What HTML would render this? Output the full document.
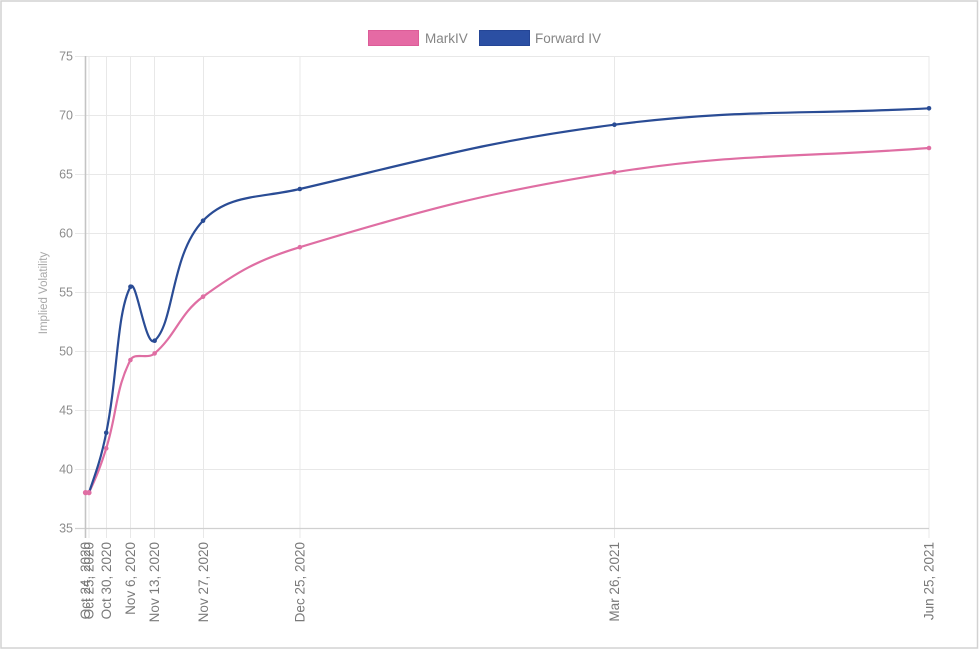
<!DOCTYPE html>
<html>
<head>
<meta charset="utf-8">
<style>
  html, body { margin:0; padding:0; background:#fff; }
  body { width:979px; height:650px; overflow:hidden; }
  svg { display:block; }
  text { font-family: "Liberation Sans", Arial, sans-serif; }
</style>
</head>
<body>
<svg width="979" height="650" viewBox="0 0 979 650" xmlns="http://www.w3.org/2000/svg">
  <rect x="0" y="0" width="979" height="650" fill="#fff"/>
  <rect x="1" y="1" width="976.5" height="647" fill="none" stroke="#d2d2d2" stroke-width="1.5"/>

  <!-- legend -->
  <rect x="368.5" y="30.5" width="50" height="15" fill="#e56aa4" stroke="#dc5c98" stroke-width="1"/>
  <text x="425" y="43" font-size="13.5" fill="#858585">MarkIV</text>
  <rect x="479.5" y="30.5" width="50" height="15" fill="#2b4fa3" stroke="#244596" stroke-width="1"/>
  <text x="535" y="43" font-size="13.5" fill="#858585">Forward IV</text>

  <!-- horizontal grid -->
  <g stroke="#e8e8e8" stroke-width="1">
    <line x1="75" y1="56.5" x2="929" y2="56.5"/>
    <line x1="75" y1="115.5" x2="929" y2="115.5"/>
    <line x1="75" y1="174.5" x2="929" y2="174.5"/>
    <line x1="75" y1="233.5" x2="929" y2="233.5"/>
    <line x1="75" y1="292.5" x2="929" y2="292.5"/>
    <line x1="75" y1="351.5" x2="929" y2="351.5"/>
    <line x1="75" y1="410.5" x2="929" y2="410.5"/>
    <line x1="75" y1="469.5" x2="929" y2="469.5"/>
  </g>
  <!-- vertical grid -->
  <g stroke="#e8e8e8" stroke-width="1">
    <line x1="89" y1="56" x2="89" y2="538"/>
    <line x1="106.5" y1="56" x2="106.5" y2="538"/>
    <line x1="130.5" y1="56" x2="130.5" y2="538"/>
    <line x1="154.5" y1="56" x2="154.5" y2="538"/>
    <line x1="203.5" y1="56" x2="203.5" y2="538"/>
    <line x1="300" y1="56" x2="300" y2="538"/>
    <line x1="614.5" y1="56" x2="614.5" y2="538"/>
    <line x1="929" y1="56" x2="929" y2="538"/>
  </g>
  <!-- axes -->
  <line x1="75" y1="528.5" x2="929" y2="528.5" stroke="#d0d0d0" stroke-width="1.3"/>
  <line x1="85.5" y1="56" x2="85.5" y2="538" stroke="#c4c4c4" stroke-width="1.6"/>

  <!-- y tick labels -->
  <g font-size="12.5" fill="#8c8c8c" text-anchor="end">
    <text x="73" y="60.5">75</text>
    <text x="73" y="119.5">70</text>
    <text x="73" y="178.5">65</text>
    <text x="73" y="237.5">60</text>
    <text x="73" y="296.5">55</text>
    <text x="73" y="355.5">50</text>
    <text x="73" y="414.5">45</text>
    <text x="73" y="473.5">40</text>
    <text x="73" y="532.5">35</text>
  </g>
  <text transform="translate(47,293) rotate(-90)" font-size="11.5" fill="#a8a8a8" text-anchor="middle">Implied Volatility</text>

  <!-- x tick labels -->
  <g font-size="13.5" fill="#7a7a7a" text-anchor="end">
    <text transform="translate(90,542) rotate(-90)">Oct 24, 2020</text>
    <text transform="translate(93.5,542) rotate(-90)">Oct 25, 2020</text>
    <text transform="translate(111,542) rotate(-90)">Oct 30, 2020</text>
    <text transform="translate(135,542) rotate(-90)">Nov 6, 2020</text>
    <text transform="translate(159,542) rotate(-90)">Nov 13, 2020</text>
    <text transform="translate(208,542) rotate(-90)">Nov 27, 2020</text>
    <text transform="translate(304.5,542) rotate(-90)">Dec 25, 2020</text>
    <text transform="translate(619,542) rotate(-90)">Mar 26, 2021</text>
    <text transform="translate(933.5,542) rotate(-90)">Jun 25, 2021</text>
  </g>

  <!-- MarkIV -->
  <path d="M85.5,492.6 C86.88,492.6 88.40,493.80 88.96,492.6 C96.69,476.10 100.57,466.46 106.24,448.35 C117.17,413.42 115.24,389.82 130.44,360 C134.60,351.84 147.33,359.77 154.64,353.4 C176.37,334.45 179.42,313.98 203.04,296.7 C237.49,271.50 258.43,259.72 299.83,247.2 C422.98,209.96 487.03,192.39 614.42,172.3 C738.69,152.71 803.17,157.72 929,148" fill="none" stroke="#df6ea3" stroke-width="2.2"/>
  <g fill="#df6ea3">
    <circle cx="85.5" cy="492.6" r="2.5"/>
    <circle cx="88.96" cy="492.6" r="2.5"/>
    <circle cx="106.24" cy="448.35" r="2.3"/>
    <circle cx="130.44" cy="360" r="2.3"/>
    <circle cx="154.64" cy="353.4" r="2.3"/>
    <circle cx="203.04" cy="296.7" r="2.3"/>
    <circle cx="299.83" cy="247.2" r="2.3"/>
    <circle cx="614.42" cy="172.3" r="2.3"/>
    <circle cx="929" cy="148" r="2.3"/>
  </g>

  <!-- Forward IV -->
  <path d="M85.5,492.6 C86.88,492.6 88.52,493.86 88.96,492.6 C96.82,469.94 101.33,457.18 106.24,432.8 C117.92,374.81 116.61,313.02 130.44,286.7 C135.97,276.18 145.53,348.98 154.64,340.7 C174.57,322.58 170.54,254.65 203.04,220.7 C228.62,193.97 260.21,198.25 299.83,189.0 C424.76,159.85 487.38,140.99 614.42,124.7 C739.05,108.72 803.17,114.86 929,108.3" fill="none" stroke="#2a4c95" stroke-width="2.2"/>
  <g fill="#2a4c95">
    <circle cx="106.24" cy="432.8" r="2.3"/>
    <circle cx="130.44" cy="286.7" r="2.3"/>
    <circle cx="154.64" cy="340.7" r="2.3"/>
    <circle cx="203.04" cy="220.7" r="2.3"/>
    <circle cx="299.83" cy="189.0" r="2.3"/>
    <circle cx="614.42" cy="124.7" r="2.3"/>
    <circle cx="929" cy="108.3" r="2.3"/>
  </g>
  <!-- overlapping start points drawn pink on top as in reference -->
  <g fill="#df6ea3">
    <circle cx="85.5" cy="492.6" r="2.6"/>
    <circle cx="88.96" cy="492.6" r="2.6"/>
  </g>
</svg>
</body>
</html>
